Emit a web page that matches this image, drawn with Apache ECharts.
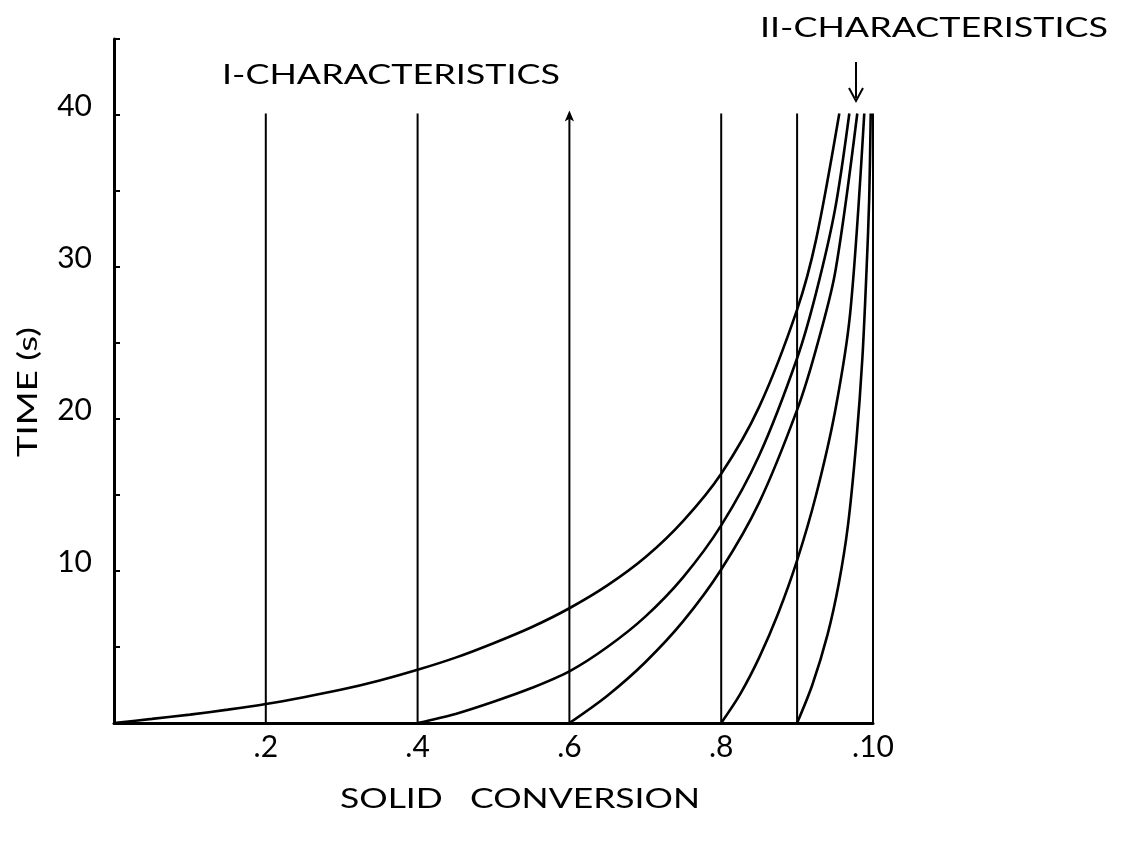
<!DOCTYPE html>
<html>
<head>
<meta charset="utf-8">
<script src="https://cdn.jsdelivr.net/npm/echarts@6/dist/echarts.min.js"></script>
<style>html,body{margin:0;padding:0;background:#fff;}#c{width:1125px;height:845px;}</style>
</head>
<body>
<div id="c"></div>
<script>
// ---- data ----
const xLabelValues = [0.2, 0.4, 0.6, 0.8, 1.0];
const xLabelTexts  = ['.2', '.4', '.6', '.8', '.10'];
const yLabelValues = [10, 20, 30, 40];

// I-characteristics: vertical lines (solid conversion = const)
const verticalX   = [0.2, 0.4, 0.6, 0.8, 0.9, 1.0];
const verticalTop = 40.1;

// II-characteristics: curves
const c1X = [0, 0.05, 0.1, 0.15, 0.2, 0.25, 0.3, 0.35, 0.4, 0.45, 0.5, 0.55, 0.6, 0.65, 0.7, 0.75, 0.8, 0.85, 0.9, 0.925, 0.9556];
const c1Y = [0, 0.27, 0.55, 0.88, 1.25, 1.7, 2.2, 2.8, 3.5, 4.3, 5.25, 6.3, 7.55, 9.05, 10.9, 13.3, 16.4, 20.8, 27.2, 31.8, 40.1];
const c2X = [0.4, 0.45, 0.5, 0.55, 0.6, 0.65, 0.7, 0.75, 0.8, 0.85, 0.9, 0.925, 0.95, 0.9688];
const c2Y = [0, 0.6, 1.4, 2.3, 3.4, 5.0, 7.0, 9.6, 13.0, 17.6, 24.0, 28.3, 33.8, 40.1];
const c3X = [0.6, 0.65, 0.7, 0.75, 0.8, 0.85, 0.9, 0.925, 0.95, 0.9793];
const c3Y = [0, 1.8, 4.0, 6.7, 10.1, 14.5, 20.6, 24.6, 29.6, 40.1];
const c4X = [0.8, 0.825, 0.85, 0.875, 0.9, 0.925, 0.95, 0.97, 0.9885];
const c4Y = [0, 1.9, 4.3, 7.2, 10.7, 15.0, 20.5, 27.0, 40.1];
const c5X = [0.9, 0.92, 0.94, 0.955, 0.967, 0.978, 0.986, 0.9915, 0.995, 0.997];
const c5Y = [0, 2.5, 5.8, 9.2, 13.0, 18.5, 24.0, 29.8, 34.5, 40.1];

const titleI  = 'I-CHARACTERISTICS';
const titleII = 'II-CHARACTERISTICS';
const xName = 'SOLID   CONVERSION';
const yName = 'TIME (s)';

// ---- build ----
const FAMILY = 'Lato';
const mctx = document.createElement('canvas').getContext('2d');
function measure(str, size) { mctx.font = size + 'px ' + FAMILY; return mctx.measureText(str).width; }

const zip = (xs, ys) => xs.map((x, i) => [x, ys[i]]);
const curves = [zip(c1X, c1Y), zip(c2X, c2Y), zip(c3X, c3Y), zip(c4X, c4Y), zip(c5X, c5Y)];

const series = [];
verticalX.forEach(x => {
  const top = { value: [x, verticalTop] };
  if (Math.abs(x - 0.6) < 1e-9) { top.symbol = 'arrow'; top.symbolSize = [7, 11]; top.symbolOffset = [0, -3]; }
  series.push({
    type: 'line', data: [[x, 0], top], showSymbol: true, symbol: 'none',
    lineStyle: { color: '#000', width: 2 }, itemStyle: { color: '#000' }, silent: true, z: 3
  });
});
curves.forEach(d => series.push({
  type: 'line', data: d, smooth: 0.3, symbol: 'none',
  lineStyle: { color: '#000', width: 2.6 }, silent: true, z: 4
}));

function stretchedText(str, size, left, right, cy) {
  const w = measure(str, size);
  return {
    type: 'text', x: left, y: cy, scaleX: (right - left) / w, scaleY: 1,
    style: { text: str, fontSize: size, fontFamily: FAMILY, fill: '#000', align: 'left', verticalAlign: 'middle' }
  };
}

const yNameLen = 130, yNameSize = 26;

const chart = echarts.init(document.getElementById('c'), null, { renderer: 'canvas' });
chart.setOption({
  animation: false,
  backgroundColor: '#fff',
  grid: { left: 114, right: 252, top: 39, bottom: 122, containLabel: false },
  xAxis: {
    type: 'value', min: 0, max: 1, interval: 0.1,
    axisLine: { show: true, lineStyle: { color: '#000', width: 3 } },
    axisTick: { show: false }, splitLine: { show: false },
    axisLabel: {
      color: '#000', fontSize: 30, fontFamily: FAMILY, margin: 9,
      formatter: v => { const i = xLabelValues.findIndex(t => Math.abs(t - v) < 1e-6); return i >= 0 ? xLabelTexts[i] : ''; }
    }
  },
  yAxis: {
    type: 'value', min: 0, max: 45, interval: 5,
    axisLine: { show: true, lineStyle: { color: '#000', width: 3 } },
    axisTick: { show: true, inside: true, length: 6, lineStyle: { color: '#000', width: 2 },
      interval: (i, v) => v > 0 && v < 45 },
    splitLine: { show: false },
    axisLabel: {
      color: '#000', fontSize: 30, fontFamily: FAMILY, margin: 22,
      verticalAlign: 'bottom', lineHeight: 18,
      formatter: v => yLabelValues.includes(v) ? String(v) : ''
    }
  },
  series: series,
  graphic: [
    stretchedText(titleI, 27, 222, 560, 75),
    stretchedText(titleII, 27, 760, 1108, 28),
    { type: 'line', shape: { x1: 856, y1: 62, x2: 856, y2: 98 }, style: { stroke: '#000', lineWidth: 2 } },
    { type: 'polyline', shape: { points: [[849, 88], [856, 101], [863, 88]] }, style: { stroke: '#000', lineWidth: 2, fill: null } },
    stretchedText(xName, 26, 340, 700, 800),
    { type: 'text', x: 29, y: 392, rotation: Math.PI / 2, scaleX: yNameLen / measure(yName, yNameSize), scaleY: 1,
      style: { text: yName, fontSize: yNameSize, fontFamily: FAMILY, fill: '#000', align: 'center', verticalAlign: 'middle' } }
  ]
});
</script>
</body>
</html>
